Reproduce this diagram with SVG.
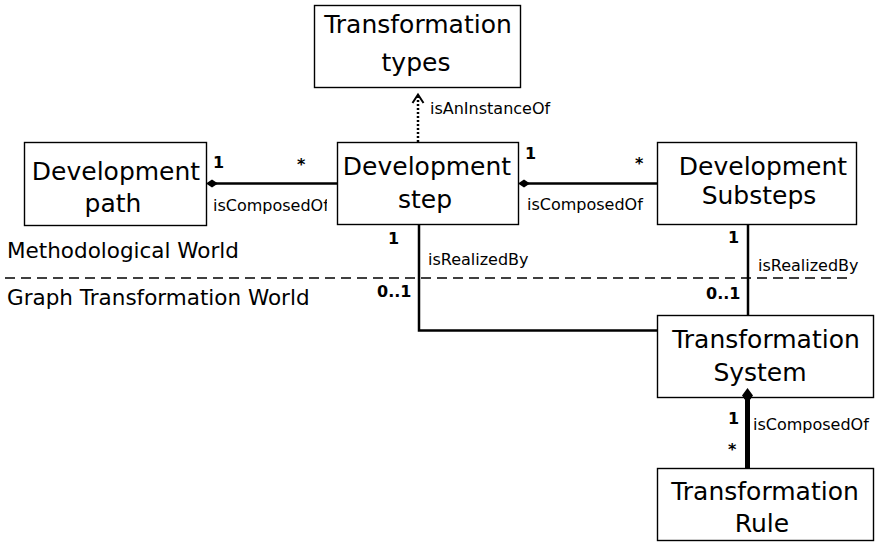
<svg xmlns="http://www.w3.org/2000/svg" width="876" height="552" viewBox="0 0 876 552">
  <style>
    .box { fill: #ffffff; stroke: #000000; stroke-width: 1.4; }
    .name { font-family: "DejaVu Sans", "Noto Sans", sans-serif; font-size: 25px; fill: #000000; text-anchor: middle; }
    .world { font-family: "DejaVu Sans", "Noto Sans", sans-serif; font-size: 21.5px; fill: #000000; }
    .role { font-family: "DejaVu Sans", "Noto Sans", sans-serif; font-size: 16px; fill: #000000; }
    .mult { font-family: "DejaVu Sans", "Noto Sans", sans-serif; font-size: 16px; font-weight: bold; fill: #000000; }
    .link { fill: none; stroke: #000000; stroke-width: 2.5; }
    .diamond { fill: #000000; stroke: none; }
  </style>
  <defs>
    <clipPath id="leftRoleClip">
      <rect x="200" y="190" width="127" height="30"/>
    </clipPath>
  </defs>

  <rect width="876" height="552" fill="#ffffff"/>

  <!-- separator between the two worlds -->
  <g id="worlds">
    <line x1="5" y1="278" x2="853" y2="278" stroke="#000000" stroke-width="1.3" stroke-dasharray="10,6"/>
    <text class="world" x="7" y="258">Methodological World</text>
    <text class="world" x="7" y="305">Graph Transformation World</text>
  </g>

  <!-- connectors -->
  <g id="connectors">
    <!-- isAnInstanceOf (dotted, open arrow) -->
    <line x1="418" y1="142" x2="418" y2="96" stroke="#000000" stroke-width="2.5" stroke-dasharray="2,2"/>
    <polyline points="412.5,103 418,94.5 423.5,103" fill="none" stroke="#000000" stroke-width="2"/>
    <text class="role" x="430" y="114">isAnInstanceOf</text>

    <!-- path isComposedOf step -->
    <line class="link" x1="216" y1="183.5" x2="337" y2="183.5"/>
    <polygon class="diamond" points="206,183.5 212,179.5 218,183.5 212,187.5"/>
    <text class="mult" x="213" y="168">1</text>
    <text class="mult" x="297" y="170">*</text>
    <text class="role" x="213" y="211" clip-path="url(#leftRoleClip)">isComposedOf</text>

    <!-- step isComposedOf substeps -->
    <line class="link" x1="528" y1="183.5" x2="657" y2="183.5"/>
    <polygon class="diamond" points="518,183.5 524,179.5 530,183.5 524,187.5"/>
    <text class="mult" x="525" y="159">1</text>
    <text class="mult" x="635" y="169">*</text>
    <text class="role" x="527" y="210">isComposedOf</text>

    <!-- step isRealizedBy system -->
    <polyline class="link" points="419,224 419,330.5 657,330.5"/>
    <text class="mult" x="388" y="244">1</text>
    <text class="role" x="428" y="265">isRealizedBy</text>
    <text class="mult" x="377" y="297">0..1</text>

    <!-- substeps isRealizedBy system -->
    <line class="link" x1="748" y1="224" x2="748" y2="315"/>
    <text class="mult" x="728" y="243">1</text>
    <text class="role" x="758" y="271">isRealizedBy</text>
    <text class="mult" x="706" y="299">0..1</text>

    <!-- system isComposedOf rule -->
    <line x1="747.5" y1="400" x2="747.5" y2="468" stroke="#000000" stroke-width="5"/>
    <polygon class="diamond" points="747.5,388 753,395.5 747.5,403 742,395.5"/>
    <text class="mult" x="728" y="424">1</text>
    <text class="mult" x="728" y="455">*</text>
    <text class="role" x="753" y="430">isComposedOf</text>
  </g>

  <!-- classes -->
  <g id="transformation-types">
    <rect class="box" x="314.5" y="5.5" width="206" height="82"/>
    <text class="name" x="418" y="33">Transformation</text>
    <text class="name" x="416" y="71">types</text>
  </g>

  <g id="development-path">
    <rect class="box" x="24.5" y="142.5" width="182" height="83"/>
    <text class="name" x="116" y="180">Development</text>
    <text class="name" x="113" y="212">path</text>
  </g>

  <g id="development-step">
    <rect class="box" x="337.5" y="142.5" width="181" height="82"/>
    <text class="name" x="427" y="175">Development</text>
    <text class="name" x="425" y="208">step</text>
  </g>

  <g id="development-substeps">
    <rect class="box" x="657.5" y="142.5" width="199" height="82"/>
    <text class="name" x="763" y="175">Development</text>
    <text class="name" x="759" y="204">Substeps</text>
  </g>

  <g id="transformation-system">
    <rect class="box" x="657.5" y="315.5" width="216" height="82"/>
    <text class="name" x="766" y="348">Transformation</text>
    <text class="name" x="760" y="381">System</text>
  </g>

  <g id="transformation-rule">
    <rect class="box" x="657.5" y="468.5" width="216" height="72"/>
    <text class="name" x="765" y="500">Transformation</text>
    <text class="name" x="762" y="532">Rule</text>
  </g>

  <!-- composition diamond drawn over the box edge -->
  <polygon class="diamond" points="747.5,388 753,395.5 747.5,403 742,395.5"/>
</svg>
